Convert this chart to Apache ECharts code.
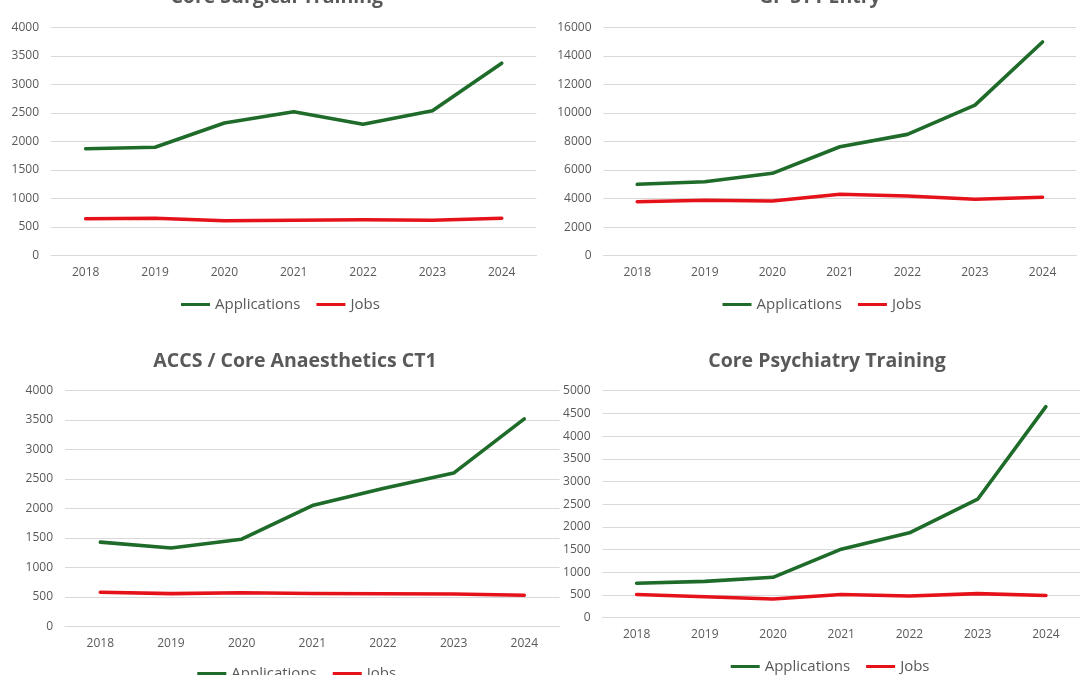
<!DOCTYPE html>
<html>
<head>
<meta charset="utf-8">
<script src="https://cdn.jsdelivr.net/npm/echarts@6/dist/echarts.min.js"></script>
<style>
html,body{margin:0;padding:0;background:#fff;}
#c{width:1080px;height:675px;}
</style>
</head>
<body>
<div id="c"></div>
<script>
const categories = ['2018', '2019', '2020', '2021', '2022', '2023', '2024'];
const seriesNames = ['Applications', 'Jobs'];
const titles = ['Core Surgical Training', 'GP ST1 Entry', 'ACCS / Core Anaesthetics CT1', 'Core Psychiatry Training'];

const cstApps = [1870, 1895, 2320, 2520, 2300, 2535, 3370];
const cstJobs = [640, 650, 605, 615, 625, 615, 650];
const gpApps = [5000, 5180, 5770, 7630, 8500, 10550, 14970];
const gpJobs = [3780, 3880, 3830, 4300, 4180, 3950, 4090];
const accsApps = [1430, 1330, 1480, 2050, 2340, 2600, 3520];
const accsJobs = [580, 557, 572, 560, 556, 550, 530];
const psyApps = [760, 800, 890, 1510, 1870, 2610, 4650];
const psyJobs = [510, 463, 412, 510, 478, 530, 490];

const yMax = [4000, 16000, 4000, 5000];
const yInterval = [500, 2000, 500, 500];

const GREEN = '#1E6B2A';
const RED = '#E5121A';
const TXT = '#595959';
const GRIDC = '#D9D9D9';
const FONT = 'Open Sans';

const panels = [
  {grid: {left: 51, top: 27.3, width: 485.4, height: 228}, title: [276.7, -2.1], legend: [181, 297], data: [cstApps, cstJobs]},
  {grid: {left: 603.5, top: 27.3, width: 472.8, height: 228.4}, title: [819.8, -2.1], legend: [722.5, 297], data: [gpApps, gpJobs]},
  {grid: {left: 65, top: 390.5, width: 494.6, height: 236}, title: [295, 361.2], legend: [197.3, 666], data: [accsApps, accsJobs]},
  {grid: {left: 602.5, top: 390.7, width: 483.5, height: 227}, title: [827, 361.2], legend: [730.7, 659], data: [psyApps, psyJobs]}
];

const option = {
  backgroundColor: '#fff',
  animation: false,
  grid: [], xAxis: [], yAxis: [], series: [], legend: [], graphic: []
};

panels.forEach((p, i) => {
  option.grid.push(Object.assign({containLabel: false}, p.grid));
  option.xAxis.push({
    type: 'category', gridIndex: i, data: categories, boundaryGap: true,
    axisLine: {show: true, lineStyle: {color: GRIDC, width: 1}},
    axisTick: {show: false},
    axisLabel: {color: TXT, fontFamily: FONT, fontSize: 12, margin: 11}
  });
  option.yAxis.push({
    type: 'value', gridIndex: i, min: 0, max: yMax[i], interval: yInterval[i],
    axisLine: {show: false}, axisTick: {show: false},
    axisLabel: {color: TXT, fontFamily: FONT, fontSize: 12, margin: 12, formatter: v => String(v)},
    splitLine: {show: true, lineStyle: {color: GRIDC, width: 1}}
  });
  const names = seriesNames.map(n => n + '#' + i);
  option.series.push({
    name: names[0], type: 'line', xAxisIndex: i, yAxisIndex: i, data: p.data[0],
    symbol: 'none', lineStyle: {color: GREEN, width: 3.6, cap: 'round', join: 'round'}, itemStyle: {color: GREEN}, z: 3
  });
  option.series.push({
    name: names[1], type: 'line', xAxisIndex: i, yAxisIndex: i, data: p.data[1],
    symbol: 'none', lineStyle: {color: RED, width: 3.6, cap: 'round', join: 'round'}, itemStyle: {color: RED}, z: 2
  });
  option.legend.push({
    data: names, left: p.legend[0], top: p.legend[1], padding: 0,
    itemWidth: 29, itemHeight: 14, itemGap: 16, icon: 'path://M0,5.5 L29,5.5 L29,8.5 L0,8.5 Z',
    formatter: n => n.split('#')[0],
    textStyle: {color: TXT, fontFamily: FONT, fontSize: 15}
  });
  option.graphic.push({
    type: 'text', x: p.title[0], y: p.title[1], z: 10,
    style: {text: titles[i], fill: TXT, font: 'bold 19.5px "Open Sans"', textAlign: 'center', textVerticalAlign: 'middle'}
  });
});

const chart = echarts.init(document.getElementById('c'), null, {renderer: 'canvas'});
chart.setOption(option);
</script>
</body>
</html>
